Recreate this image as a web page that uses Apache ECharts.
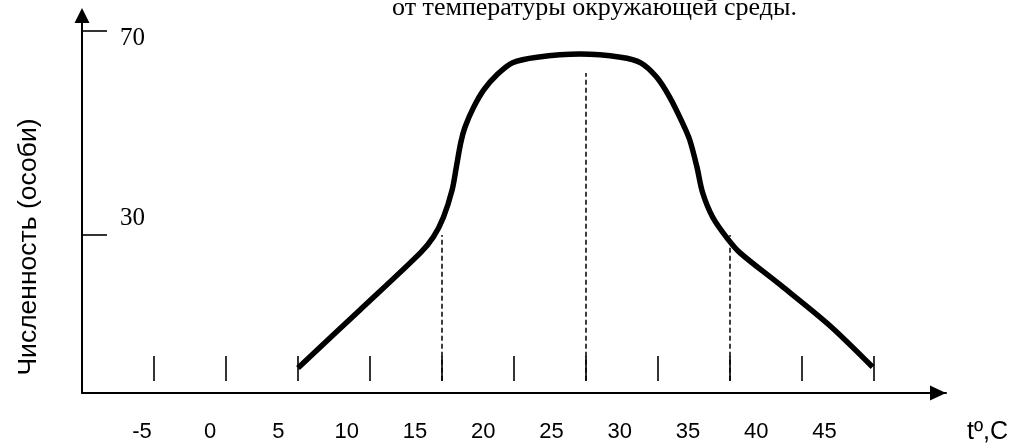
<!DOCTYPE html>
<html><head><meta charset="utf-8">
<script src="https://cdn.jsdelivr.net/npm/echarts@6/dist/echarts.min.js"></script>
<style>html,body{margin:0;padding:0;background:#fff}#c{width:1014px;height:445px}</style>
</head><body><div id="c"></div>
<script>
const titleText = 'от температуры окружающей среды.';
const yName = 'Численность (особи)';
const xName = 'tº,C';
const xTickValues = [-5, 0, 5, 10, 15, 20, 25, 30, 35, 40, 45];
const xTickLabels = ['-5', '0', '5', '10', '15', '20', '25', '30', '35', '40', '45'];
const yTickValues = [30, 70];
const yTickLabels = ['30', '70'];
const curveX = [5.0, 9.3, 13.5, 14.4, 15.1, 15.7, 16.0, 16.3, 16.6, 17.2, 17.9, 18.8, 19.9, 21.6, 24.6, 27.4, 28.8, 29.9, 30.8, 31.7, 32.2, 32.7, 33.1, 33.8, 34.8, 35.7, 38.5, 41.9, 44.9];
const curveY = [3.9, 15.3, 26.5, 29.6, 33.5, 38.8, 43.4, 48.1, 51.2, 55.1, 58.5, 61.4, 63.8, 64.9, 65.5, 64.9, 63.8, 61.0, 57.1, 52.0, 48.7, 43.4, 38.3, 33.5, 29.4, 26.5, 20.2, 12.3, 4.1];
const dashX = [15, 25, 35];
const dashTop = [30, 61.8, 30];
const dashBottom = [1.4, 1.4, 1.4];

const SANS = '"Liberation Sans", Arial, sans-serif';
const SERIF = '"Liberation Serif", "Times New Roman", serif';

const chart = echarts.init(document.getElementById('c'), null, {renderer: 'canvas'});
const curveData = curveX.map((x, i) => [x, curveY[i]]);
const dashSeries = dashX.map((x, i) => ({
  type: 'line', xAxisIndex: 0, yAxisIndex: 0, symbol: 'none', silent: true,
  data: [[x, dashBottom[i]], [x, dashTop[i]]],
  lineStyle: {color: '#000', width: 1.5, type: [5, 3]}, z: 2
}));

chart.setOption({
  animation: false,
  backgroundColor: '#fff',
  title: {
    text: titleText, left: 387, top: -10,
    textStyle: {fontFamily: SERIF, fontSize: 26, fontWeight: 'normal', color: '#000'}
  },
  grid: {left: 82, right: 68, top: 21, bottom: 52, containLabel: false, outerBoundsMode: 'none'},
  xAxis: [
    { type: 'value', min: -10, max: 50, position: 'bottom',
      axisLine: {show: true, onZero: false, symbol: ['none', 'triangle'], symbolSize: [15, 16], symbolOffset: [0, -8],
        lineStyle: {color: '#000', width: 2}},
      axisTick: {show: false}, axisLabel: {show: false}, splitLine: {show: false} },
    { type: 'value', min: -10, max: 50, position: 'bottom', offset: -12,
      axisLine: {show: false, onZero: false},
      axisTick: {show: true, inside: true, length: 25, customValues: xTickValues, lineStyle: {color: '#000', width: 1.6}},
      axisLabel: {show: false}, splitLine: {show: false} },
    { type: 'value', min: -9.39, max: 53.9, position: 'bottom',
      axisLine: {show: false, onZero: false}, axisTick: {show: false}, splitLine: {show: false},
      axisLabel: {show: true, margin: 28, customValues: xTickValues,
        formatter: v => xTickLabels[xTickValues.indexOf(v)],
        fontFamily: SANS, fontSize: 22, color: '#000'} },
    { type: 'value', min: -10, max: 50, position: 'bottom', offset: 39,
      axisLine: {show: false, onZero: false}, axisTick: {show: false}, splitLine: {show: false},
      axisLabel: {show: false},
      name: xName, nameLocation: 'end', nameGap: 21,
      nameTextStyle: {fontFamily: SANS, fontSize: 25, color: '#000'} }
  ],
  yAxis: [
    { type: 'value', min: -1, max: 72, position: 'left',
      axisLine: {show: true, onZero: false, symbol: ['none', 'triangle'], symbolSize: [15, 15], symbolOffset: [0, 5.5],
        lineStyle: {color: '#000', width: 2}},
      axisTick: {show: true, inside: true, length: 25, customValues: yTickValues, lineStyle: {color: '#000', width: 1.6}},
      axisLabel: {show: false}, splitLine: {show: false},
      name: yName, nameLocation: 'middle', nameRotate: 90, nameGap: 40,
      nameTextStyle: {fontFamily: SANS, fontSize: 26.5, color: '#000', padding: [0, 80, 0, 0]} },
    { type: 'value', min: -9.1, max: 74, position: 'left',
      axisLine: {show: false, onZero: false}, axisTick: {show: false}, splitLine: {show: false},
      axisLabel: {show: true, inside: true, margin: 38, customValues: yTickValues,
        formatter: v => yTickLabels[yTickValues.indexOf(v)],
        fontFamily: SERIF, fontSize: 25, color: '#000'} }
  ],
  series: [
    { type: 'line', xAxisIndex: 0, yAxisIndex: 0, data: curveData, smooth: 0.3,
      symbol: 'none', silent: true, lineStyle: {color: '#000', width: 5.5}, z: 3 }
  ].concat(dashSeries)
});
</script></body></html>
